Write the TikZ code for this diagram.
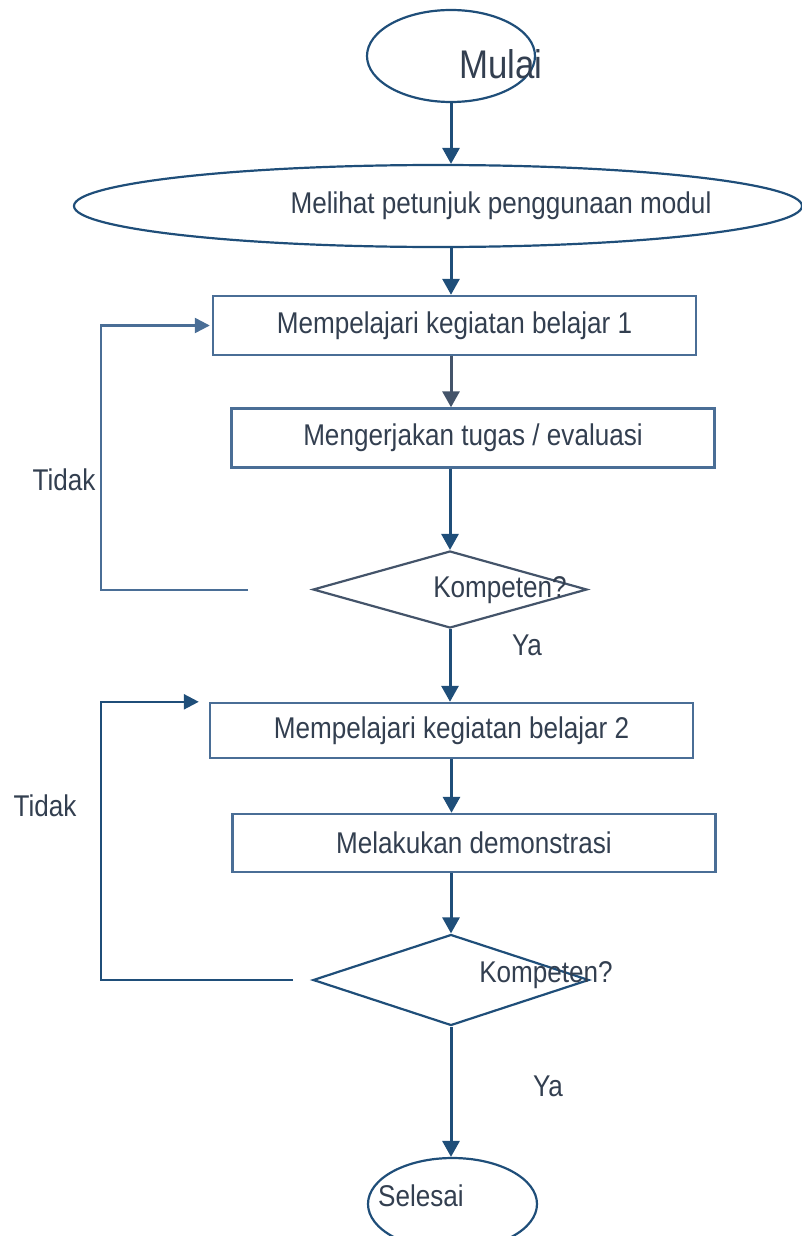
\documentclass[tikz,border=0pt]{standalone}
\usepackage{fontspec}
\setmainfont{Liberation Sans}[FakeStretch=0.87]
\usepackage{tikz}
\usetikzlibrary{arrows.meta, shapes.geometric, calc}
\definecolor{flowBlue}{RGB}{31,78,121}
\definecolor{flowSlate}{RGB}{68,84,106}
\definecolor{boxEdge}{RGB}{74,110,150}
\definecolor{textInk}{RGB}{51,63,80}
\tikzset{
  flowtext/.style={text=textInk, font=\fontsize{30}{34}\selectfont, inner sep=0pt},
  terminal/.style={draw=flowBlue, ellipse, line width=2.2pt, inner sep=0pt},
  procbox/.style={draw=boxEdge, rectangle, line width=2.4pt, minimum width=483pt, minimum height=59pt, flowtext},
  decision/.style={draw=flowSlate, diamond, line width=2.2pt, inner sep=0pt},
  flowarrow/.style={draw=flowBlue, line width=3pt, -{Triangle[width=17pt,length=16pt]}},
  loopline/.style={draw=boxEdge, line width=2.4pt, -{Triangle[width=15pt,length=15pt]}},
}

\begin{document}
\begin{tikzpicture}[x=1pt, y=-1pt]
  \useasboundingbox (0,0) rectangle (802,1236);
  % terminals and steps
  \node[terminal, minimum width=168pt, minimum height=92pt] (mulai) at (451,56) {};
  \node[flowtext, font=\fontsize{40}{44}\selectfont] (mulaiText) at (501,64) {Mulai};
  \node[terminal, minimum width=728pt, minimum height=82pt] (melihat) at (438,206) {};
  \node[flowtext] (melihatText) at (501,206) {Melihat petunjuk penggunaan modul};
  \node[procbox] (belajar1) at (454.5,325.5) {Mempelajari kegiatan belajar 1};
  \node[procbox] (tugas) at (473,438) {Mengerjakan tugas / evaluasi};
  \node[decision, minimum width=274pt, minimum height=77pt] (kompeten1) at (450,589.5) {};
  \node[flowtext] (kompeten1Text) at (500,590) {Kompeten?};
  \node[procbox, minimum height=55pt] (belajar2) at (451.5,730.5) {Mempelajari kegiatan belajar 2};
  \node[procbox, minimum height=58pt] (demo) at (474,843) {Melakukan demonstrasi};
  \node[decision, draw=flowBlue, minimum width=276pt, minimum height=91pt] (kompeten2) at (451,980) {};
  \node[flowtext] (kompeten2Text) at (546,975) {Kompeten?};
  \node[terminal, minimum width=169pt, minimum height=92pt] (selesai) at (452.5,1204) {};
  \node[flowtext] (selesaiText) at (421,1196) {Selesai};

  % labels
  \node[flowtext] (tidak1) at (64,480) {Tidak};
  \node[flowtext] (ya1) at (527,645) {Ya};
  \node[flowtext] (tidak2) at (45,806) {Tidak};
  \node[flowtext] (ya2) at (548,1086) {Ya};

  % main flow
  \draw[flowarrow] (mulai.south) -- (mulai.south |- melihat.north);
  \draw[flowarrow] (melihat.south -| mulai.south) -- (mulai.south |- belajar1.north);
  \draw[flowarrow, draw=flowSlate] (belajar1.south -| mulai.south) -- (mulai.south |- tugas.north);
  \draw[flowarrow] (tugas.south -| kompeten1.north) -- (kompeten1.north);
  \draw[flowarrow] (kompeten1.south) -- (kompeten1.south |- belajar2.north);
  \draw[flowarrow] (belajar2.south) -- (belajar2.south |- demo.north);
  \draw[flowarrow] (demo.south -| kompeten2.north) -- (kompeten2.north);
  \draw[flowarrow] (kompeten2.south) -- (kompeten2.south |- selesai.north);

  % back loops
  \coordinate (tidak1Start) at (248,590);
  \coordinate (tidak1Corner) at (101,590);
  \draw[loopline] (tidak1Start) -- (tidak1Corner) |- ([xshift=-2pt]belajar1.west);
  \coordinate (tidak2Start) at (293,980);
  \coordinate (tidak2Corner) at (101,980);
  \draw[loopline, draw=flowBlue] (tidak2Start) -- (tidak2Corner) |- ([xshift=-10pt]belajar2.north west);
\end{tikzpicture}
\end{document}
